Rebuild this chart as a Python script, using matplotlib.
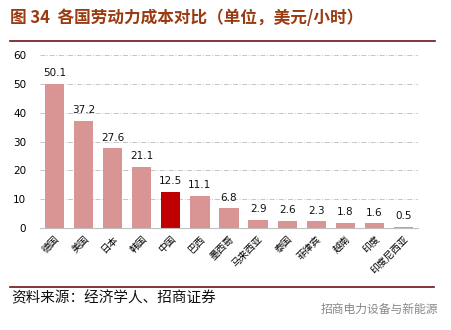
import matplotlib
matplotlib.use("Agg")
import matplotlib.pyplot as plt
from matplotlib.lines import Line2D

plt.rcParams["font.family"] = ["Noto Sans CJK SC", "DejaVu Sans"]

countries = ["德国", "美国", "日本", "韩国", "中国", "巴西", "墨西哥",
             "马来西亚", "泰国", "菲律宾", "越南", "印度", "印度尼西亚"]
cost = [50.1, 37.2, 27.6, 21.1, 12.5, 11.1, 6.8, 2.9, 2.6, 2.3, 1.8, 1.6, 0.5]
highlight = "中国"
yticks = [0, 10, 20, 30, 40, 50, 60]

PINK = "#D99594"
RED = "#C00000"
BROWN = "#9A3C12"
RULE = "#6B1414"

fig = plt.figure(figsize=(4.52, 3.30), dpi=100)
ax = fig.add_axes([40 / 452, 1 - 228 / 330, 378 / 452, 173 / 330])

x = list(range(len(countries)))
colors = [RED if c == highlight else PINK for c in countries]
ax.bar(x, cost, width=0.66, color=colors, zorder=2)
for xi, v in zip(x, cost):
    ax.text(xi, v + 2.0, f"{v:.1f}", ha="center", va="bottom", fontsize=7.5,
            family=["DejaVu Sans"], color="#111111")

ax.set_xlim(-0.5, 12.5)
ax.set_ylim(0, 60)
ax.set_yticks(yticks)
ax.tick_params(axis="y", length=0, labelsize=7.5, pad=10)
ax.set_xticks(x)
ax.set_xticklabels(countries, rotation=45, ha="right", va="top",
                   rotation_mode="anchor", fontsize=7)
ax.tick_params(axis="x", length=0, pad=4)
for lbl in ax.get_yticklabels():
    lbl.set_family(["DejaVu Sans"])

ax.yaxis.grid(True, color="#BBBBBB", linestyle=(0, (6, 2, 1, 2)), linewidth=0.6, zorder=0)
for side in ["top", "right", "left"]:
    ax.spines[side].set_visible(False)
ax.spines["bottom"].set_color("#BFBFBF")
ax.spines["bottom"].set_linewidth(0.8)

fig.text(10 / 452, 1 - 18 / 330, "图 34  各国劳动力成本对比（单位，美元/小时）",
         fontsize=12, fontweight="bold", color=BROWN, va="center", ha="left")
fig.add_artist(Line2D([10 / 452, 435 / 452], [1 - 40.5 / 330, 1 - 40.5 / 330],
                      color=RULE, linewidth=1.2))
fig.add_artist(Line2D([10 / 452, 434 / 452], [1 - 287 / 330, 1 - 287 / 330],
                      color=RULE, linewidth=1.2))
fig.text(11 / 452, 1 - 298 / 330, "资料来源：经济学人、招商证券",
         fontsize=10.5, color="#111111", va="center", ha="left")
fig.text(438 / 452, 1 - 309 / 330, "招商电力设备与新能源",
         fontsize=8.5, color="#888888", va="center", ha="right")

fig.savefig("out.png", dpi=100)
